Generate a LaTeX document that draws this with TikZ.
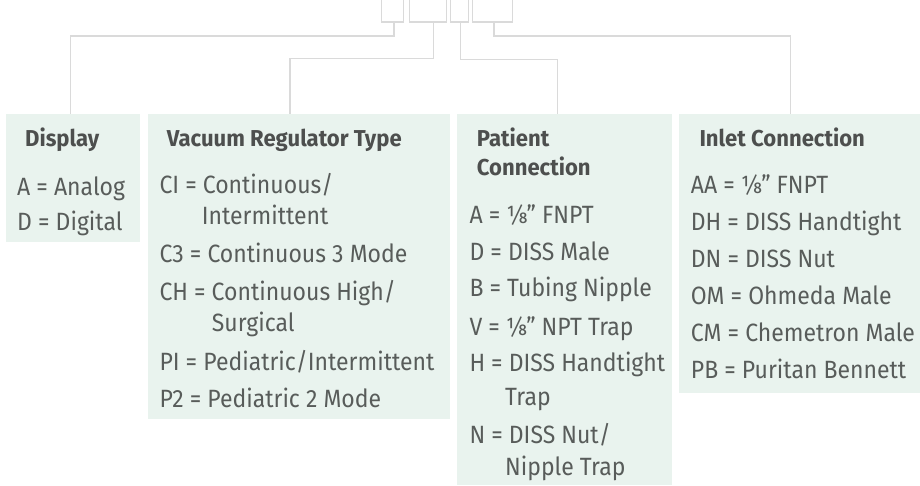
\documentclass[tikz,border=0pt]{standalone}
\usepackage{fontspec}
\setmainfont{Fira Sans}
\definecolor{boxfill}{HTML}{E9F3EE}
\definecolor{linegray}{HTML}{DADADA}
\definecolor{txt}{HTML}{585C5A}
\definecolor{head}{HTML}{4D4F4E}
\newcommand\sqz[1]{\scalebox{0.92}[1]{#1}}
\newcommand\hsq[1]{\scalebox{0.96}[1]{#1}}
\begin{document}
\begin{tikzpicture}[x=1pt,y=-1pt,
  box/.style={fill=boxfill,draw=none,anchor=north west,inner sep=0pt},
  conn/.style={draw=linegray,line width=1.3pt},
  hd/.style={anchor=base west,inner sep=0pt,text=head,font=\fontsize{23}{27}\selectfont\bfseries},
  it/.style={anchor=base west,inner sep=0pt,text=txt,font=\fontsize{25}{30}\selectfont}]
\useasboundingbox (0,0) rectangle (920,485);
% boxes
\node[box,minimum width=134pt,minimum height=128pt] (disp) at (6,114) {};
\node[box,minimum width=302pt,minimum height=305pt] (vrt) at (148,114) {};
\node[box,minimum width=215pt,minimum height=371pt] (pat) at (457,114) {};
\node[box,minimum width=241pt,minimum height=279pt] (inl) at (679,114) {};
% brackets
\coordinate (b1a) at (381.7,0); \coordinate (b1b) at (403.3,0);
\coordinate (b2a) at (409.3,0); \coordinate (b2b) at (446.7,0);
\coordinate (b3a) at (450.7,0); \coordinate (b3b) at (468.3,0);
\coordinate (b4a) at (472.3,0); \coordinate (b4b) at (512.7,0);
\draw[conn] (b1a) |- ([yshift=-22pt]b1b) -- (b1b);
\draw[conn] (b2a) |- ([yshift=-22pt]b2b) -- (b2b);
\draw[conn] (b3a) |- ([yshift=-22pt]b3b) -- (b3b);
\draw[conn] (b4a) |- ([yshift=-22pt]b4b) -- (b4b);
\coordinate (s1) at (394,22); \coordinate (s2) at (433.3,22);
\coordinate (s3) at (460.7,22); \coordinate (s4) at (494,22);
\coordinate (t1) at (70.7,114); \coordinate (t2) at (290,114);
\coordinate (t3) at (557.3,114); \coordinate (t4) at (790.7,114);
\draw[conn] (s1) -- (394,36) -| (t1);
\draw[conn] (s2) -- (433.3,58.5) -| (t2);
\draw[conn] (s3) -- (460.7,59.5) -| (t3);
\draw[conn] (s4) -- (494,36) -| (t4);
% Display
\node[hd] (h1) at (25,146.5) {\hsq{Display}};
\node[it] (d1) at (17,195) {\sqz{A = Analog}};
\node[it] (d2) at (17,230) {\sqz{D = Digital}};
% Vacuum Regulator Type
\node[hd] (h2) at (166.7,146) {\hsq{Vacuum Regulator Type}};
\node[it] (v1) at (159.3,193) {\sqz{CI = Continuous/}};
\node[it] (v1b) at (201.7,224) {\sqz{Intermittent}};
\node[it] (v2) at (159.3,262.7) {\sqz{C3 = Continuous 3 Mode}};
\node[it] (v3) at (159.3,300) {\sqz{CH = Continuous High/}};
\node[it] (v3b) at (211.7,331.7) {\sqz{Surgical}};
\node[it] (v4) at (159.3,370) {\sqz{PI = Pediatric/Intermittent}};
\node[it] (v5) at (159.3,407.7) {\sqz{P2 = Pediatric 2 Mode}};
% Patient Connection
\node[hd] (h3) at (476.7,146) {\hsq{Patient}};
\node[hd] (h3b) at (476.7,175) {\hsq{Connection}};
\node[it] (p1) at (469.3,223.3) {\sqz{A = ⅛" FNPT}};
\node[it] (p2) at (469.3,260) {\sqz{D = DISS Male}};
\node[it] (p3) at (469.3,296.7) {\sqz{B = Tubing Nipple}};
\node[it] (p4) at (469.3,335) {\sqz{V = ⅛" NPT Trap}};
\node[it] (p5) at (469.3,371.7) {\sqz{H = DISS Handtight}};
\node[it] (p5b) at (505,405.7) {\sqz{Trap}};
\node[it] (p6) at (469.3,443.3) {\sqz{N = DISS Nut/}};
\node[it] (p6b) at (505,475) {\sqz{Nipple Trap}};
% Inlet Connection
\node[hd] (h4) at (699.3,146) {\hsq{Inlet Connection}};
\node[it] (i1) at (690.7,193.3) {\sqz{AA = ⅛" FNPT}};
\node[it] (i2) at (690.7,230) {\sqz{DH = DISS Handtight}};
\node[it] (i3) at (690.7,267.3) {\sqz{DN = DISS Nut}};
\node[it] (i4) at (690.7,304.3) {\sqz{OM = Ohmeda Male}};
\node[it] (i5) at (690.7,341.7) {\sqz{CM = Chemetron Male}};
\node[it] (i6) at (690.7,378.3) {\sqz{PB = Puritan Bennett}};
\end{tikzpicture}
\end{document}
